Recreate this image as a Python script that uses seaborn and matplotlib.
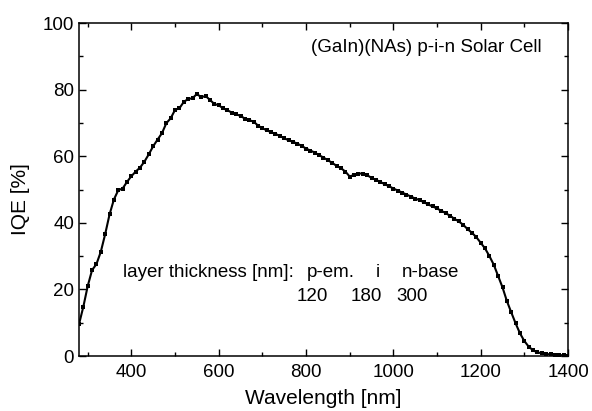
import matplotlib
matplotlib.use('Agg')
import matplotlib.pyplot as plt
from matplotlib.ticker import MultipleLocator
import seaborn as sns
import numpy as np
import pandas as pd

sns.set_style('ticks')
plt.rcParams['font.family'] = ['Liberation Sans', 'DejaVu Sans']
plt.rcParams['text.color'] = 'black'
plt.rcParams['axes.labelcolor'] = 'black'
plt.rcParams['xtick.color'] = 'black'
plt.rcParams['ytick.color'] = 'black'
plt.rcParams['axes.edgecolor'] = 'black'

# IQE curve, 10 nm steps
wavelength = np.arange(280, 1401, 10)
iqe = [9.5, 14.8, 21.0, 25.8, 27.6, 31.3, 36.6, 42.5, 47.0, 49.8,
       50.3, 52.3, 54.0, 55.4, 56.6, 58.4, 60.6, 63.0, 65.0, 66.9,
       69.9, 71.4, 73.9, 74.4, 76.3, 77.2, 77.4, 78.7, 77.7, 78.1,
       76.9, 75.7, 75.3, 74.4, 73.8, 73.1, 72.6, 72.1, 71.3, 70.8,
       70.4, 69.2, 68.4, 67.8, 67.2, 66.7, 66.1, 65.4, 64.8, 64.3,
       63.8, 63.1, 62.3, 61.7, 61.1, 60.3, 59.6, 58.8, 58.0, 57.1,
       56.4, 55.4, 53.9, 54.4, 54.8, 54.8, 54.3, 53.5, 52.9, 52.3,
       51.6, 51.0, 50.3, 49.7, 49.1, 48.5, 47.9, 47.3, 46.8, 46.2,
       45.5, 44.9, 44.3, 43.6, 42.9, 42.1, 41.2, 40.4, 39.4, 38.1,
       37.0, 35.7, 34.0, 32.3, 30.0, 27.4, 24.0, 20.6, 16.5, 13.1,
       9.8, 6.8, 4.5, 2.8, 1.7, 1.1, 0.8, 0.6, 0.5, 0.4,
       0.3, 0.2, 0.1]

title_text = "(GaIn)(NAs) p-i-n Solar Cell"
layer_names = ["p-em.", "i", "n-base"]
layer_thick = ["120", "180", "300"]

df = pd.DataFrame({'wl': wavelength, 'iqe': iqe})

fig = plt.figure(figsize=(5.92, 4.11), dpi=100)
ax = fig.add_axes([0.1334, 0.1338, 0.8261, 0.8102])

sns.lineplot(data=df, x='wl', y='iqe', ax=ax, color='black', lw=1.5,
             marker='s', markersize=2.8, markeredgewidth=0, markerfacecolor='black')

ax.set_xlim(280, 1400)
ax.set_ylim(0, 100)
ax.xaxis.set_major_locator(MultipleLocator(200))
ax.xaxis.set_minor_locator(MultipleLocator(100))
ax.yaxis.set_major_locator(MultipleLocator(20))
ax.yaxis.set_minor_locator(MultipleLocator(10))
ax.tick_params(which='both', direction='in', top=True, right=True,
               labelsize=13.5, width=1.0)
ax.tick_params(axis='x', pad=6)
ax.tick_params(which='major', length=5)
ax.tick_params(which='minor', length=3)
for s in ax.spines.values():
    s.set_linewidth(1.1)

ax.set_xlabel("Wavelength [nm]", fontsize=15)
ax.set_ylabel("IQE [%]", fontsize=15)
ax.xaxis.set_label_coords(0.5, -0.1)
ax.yaxis.set_label_coords(-0.1, 0.47)

fs = 13.5
ax.text(811, 92.5, title_text, fontsize=fs, va='center', ha='left')
ax.text(381, 25.2, "layer thickness [nm]:", fontsize=fs, va='center', ha='left')
ax.text(801, 25.2, layer_names[0], fontsize=fs, va='center', ha='left')
ax.text(965, 25.2, layer_names[1], fontsize=fs, va='center', ha='center')
ax.text(1019, 25.2, layer_names[2], fontsize=fs, va='center', ha='left')
ax.text(779, 18.0, layer_thick[0], fontsize=fs, va='center', ha='left')
ax.text(902, 18.0, layer_thick[1], fontsize=fs, va='center', ha='left')
ax.text(1007, 18.0, layer_thick[2], fontsize=fs, va='center', ha='left')

fig.savefig('out.png', dpi=100)
